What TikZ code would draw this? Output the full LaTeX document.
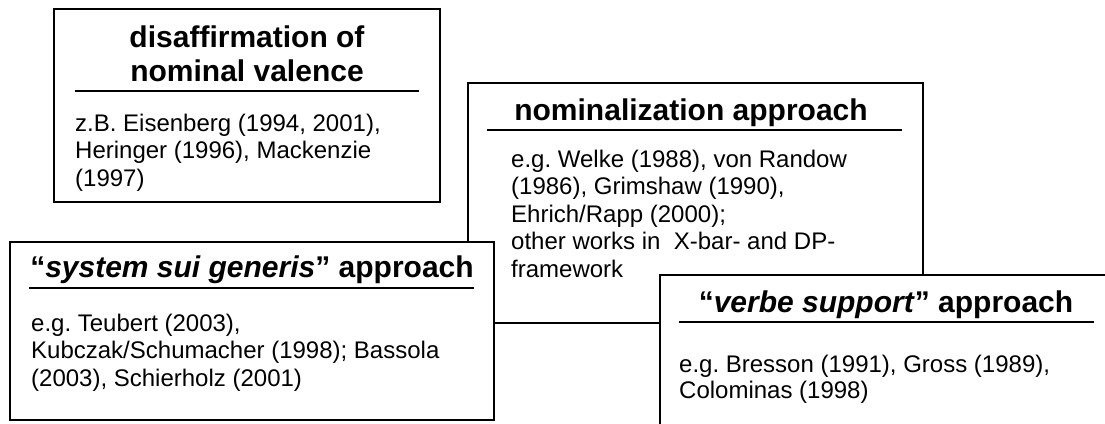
\documentclass[tikz,border=0pt]{standalone}
\usepackage{fontspec}
\setmainfont{Liberation Sans}
\frenchspacing
\begin{document}
\begin{tikzpicture}[x=1pt,y=-1pt,
  box/.style={draw=black, line width=1.9pt, fill=white, inner sep=0pt, anchor=north west},
  rulebar/.style={line width=1.9pt},
  ttl/.style={font=\fontsize{30}{34}\selectfont\bfseries, inner sep=0pt, anchor=base},
  bdy/.style={font=\fontsize{24}{27.5}\selectfont, inner sep=0pt, anchor=base west}]
\useasboundingbox[fill=white] (0,0) rectangle (1105,423);
\clip (0,0) rectangle (1105,423);

% box 1
\node[box, minimum width=386pt, minimum height=193pt] (b1) at (53,8) {};
\node[ttl] (t1a) at (247,47) {disaffirmation of};
\node[ttl] (t1b) at (247,81) {nominal valence};
\draw[rulebar] (75,91) -- (419,91);
\node[bdy] (p1a) at (75,131) {z.B. Eisenberg (1994, 2001),};
\node[bdy] (p1b) at (75,158.5) {Heringer (1996), Mackenzie};
\node[bdy] (p1c) at (75,186) {(1997)};

% box 2
\node[box, minimum width=455pt, minimum height=240pt] (b2) at (467,82) {};
\node[ttl] (t2) at (691,120) {nominalization approach};
\draw[rulebar] (487,130) -- (902,130);
\node[bdy] (p2a) at (511,167) {e.g. Welke (1988), von Randow};
\node[bdy] (p2b) at (511,194.5) {(1986), Grimshaw (1990),};
\node[bdy] (p2c) at (511,222) {Ehrich/Rapp (2000);};
\node[bdy] (p2d) at (511,249.5) {other works in\ \ X-bar- and DP-};
\node[bdy] (p2e) at (511,277) {framework};

% box 3
\node[box, minimum width=484pt, minimum height=178pt] (b3) at (9,241) {};
\node[ttl] (t3) at (252,277) {“\textit{system sui generis}” approach};
\draw[rulebar] (29,288) -- (474,288);
\node[bdy] (p3a) at (31,331) {e.g. Teubert (2003),};
\node[bdy] (p3b) at (31,358.5) {Kubczak/Schumacher (1998); Bassola};
\node[bdy] (p3c) at (31,386) {(2003), Schierholz (2001)};

% box 4
\node[box, minimum width=455pt, minimum height=200pt] (b4) at (659,274) {};
\node[ttl] (t4) at (886,312) {“\textit{verbe support}” approach};
\draw[rulebar] (679,322) -- (1094,322);
\node[bdy] (p4a) at (679,372) {e.g. Bresson (1991), Gross (1989),};
\node[bdy] (p4b) at (679,398.5) {Colominas (1998)};
\end{tikzpicture}
\end{document}
